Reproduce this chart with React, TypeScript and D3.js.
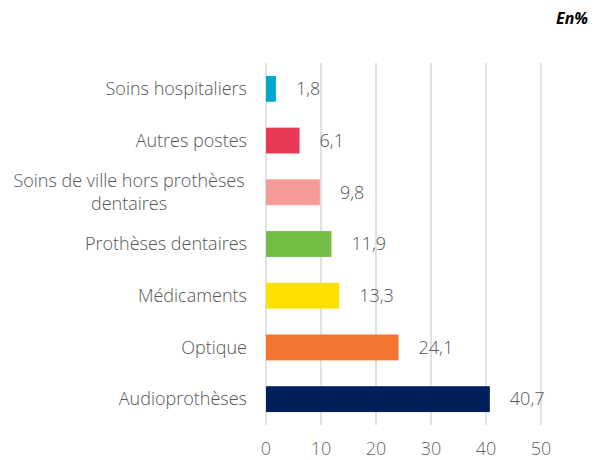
import React from "react";
import * as d3 from "d3";

const categories: string[][] = [
  ["Soins hospitaliers"],
  ["Autres postes"],
  ["Soins de ville hors prothèses", "dentaires"],
  ["Prothèses dentaires"],
  ["Médicaments"],
  ["Optique"],
  ["Audioprothèses"],
];
const values: number[] = [1.8, 6.1, 9.8, 11.9, 13.3, 24.1, 40.7];
const colors: string[] = ["#00A8CC", "#E63A55", "#F49C98", "#72BE44", "#FFE000", "#F47432", "#001F5B"];
const ticks: number[] = [0, 10, 20, 30, 40, 50];

const W = 596;
const H = 460;
const FONT = "'Open Sans', Lato, sans-serif";
const FS = 18;

export default function App() {
  const x = d3.scaleLinear().domain([0, 50]).range([266, 541]);
  const y = d3
    .scaleBand<number>()
    .domain(d3.range(categories.length))
    .range([63, 425])
    .paddingInner(0.5)
    .paddingOuter(0.25);
  const fmt = (v: number) => v.toFixed(1).replace(".", ",");
  return (
    <svg width={W} height={H} style={{ position: "absolute", left: 0, top: 0 }} fontFamily={FONT}>
      <rect width={W} height={H} fill="#fff" />
      <text x={588} y={24} textAnchor="end" fontWeight="bold" fontStyle="italic" fontSize={16} fill="#000">
        En%
      </text>
      {ticks.map((t) => (
        <g key={t}>
          <line x1={x(t)} x2={x(t)} y1={63} y2={425} stroke="#D9D9D9" strokeWidth={1.5} />
          <text x={x(t)} y={455} textAnchor="middle" fontSize={FS} fontWeight={300} fill="#666">
            {t}
          </text>
        </g>
      ))}
      {values.map((v, i) => {
        const yc = (y(i) as number) + y.bandwidth() / 2;
        const lines = categories[i];
        const lh = 23;
        return (
          <g key={i}>
            <rect x={x(0)} y={y(i)} width={x(v) - x(0)} height={y.bandwidth()} fill={colors[i]} />
            <text x={x(v) + 20} y={yc} dy="0.35em" fontSize={FS} fontWeight={300} fill="#555">
              {fmt(v)}
            </text>
            {lines.length === 1 ? (
              <text x={247} y={yc} dy="0.35em" textAnchor="end" fontSize={FS} fontWeight={300} fill="#555">
                {lines[0]}
              </text>
            ) : (
              <text x={129} y={yc - ((lines.length - 1) * lh) / 2} textAnchor="middle" fontSize={FS} fontWeight={300} fill="#555">
                {lines.map((l, k) => (
                  <tspan key={k} x={129} dy={k === 0 ? "0.35em" : lh}>
                    {l}
                  </tspan>
                ))}
              </text>
            )}
          </g>
        );
      })}
    </svg>
  );
}
